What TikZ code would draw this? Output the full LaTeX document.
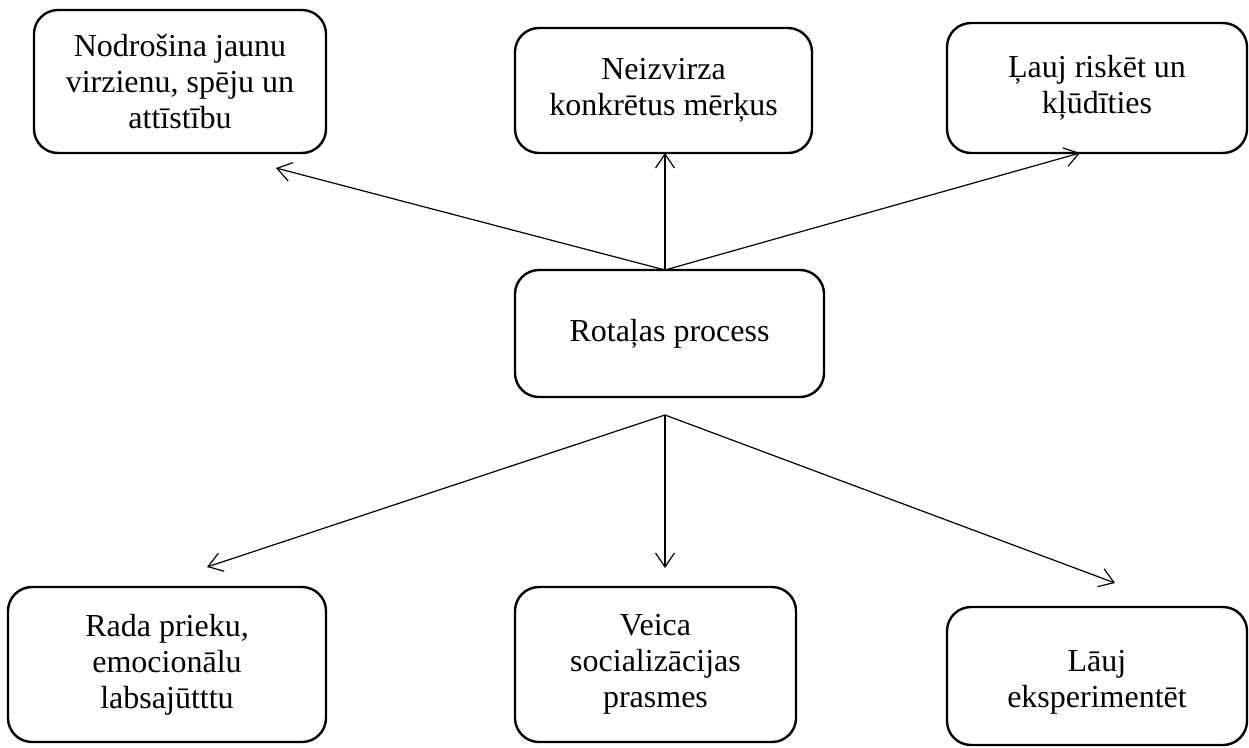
\documentclass[tikz,border=0pt]{standalone}
\usepackage{fontspec}
\setmainfont{Liberation Serif}
\usetikzlibrary{arrows.meta}
\begin{document}
\begin{tikzpicture}[x=1pt,y=-1pt,
  box/.style={draw, line width=2.4pt, rounded corners=24pt, align=center,
    font=\fontsize{32}{36}\selectfont, inner sep=0pt},
  conn/.style={line width=1.2pt, -{Straight Barb[length=14pt,width=19pt,line width=1.2pt]}}]
\useasboundingbox (0,0) rectangle (1249,747);
\node[box, minimum width=292pt, minimum height=143pt] (tl) at (180,81.5) {Nodrošina jaunu\\virzienu, spēju un\\attīstību};
\node[box, minimum width=297pt, minimum height=125pt] (tm) at (663.5,90.5) {Neizvirza\\konkrētus mērķus};
\node[box, minimum width=300pt, minimum height=130pt] (tr) at (1097,88) {Ļauj riskēt un\\kļūdīties};
\node[box, minimum width=309pt, minimum height=127pt] (c) at (669.5,333.5) {Rotaļas process};
\node[box, minimum width=318pt, minimum height=155pt] (bl) at (167,664.5) {Rada prieku,\\emocionālu\\labsajūtttu};
\node[box, minimum width=281pt, minimum height=155pt] (bm) at (655.5,664.5) {Veica\\socializācijas\\prasmes};
\node[box, minimum width=300pt, minimum height=138pt] (br) at (1097,676) {\\[-2pt]Lāuj\\eksperimentēt};
\coordinate (ctop) at (665,270);
\coordinate (cbot) at (665,415);
\coordinate (tlend) at (276,168);
\coordinate (tmend) at (665,153);
\coordinate (trend) at (1080,153);
\coordinate (blend) at (207,567);
\coordinate (bmend) at (665,568);
\coordinate (brend) at (1115,583);
\draw[conn] (ctop) -- (tlend);
\draw[conn] (ctop) -- (tmend);
\draw[conn] (ctop) -- (trend);
\draw[conn] (cbot) -- (blend);
\draw[conn] (cbot) -- (bmend);
\draw[conn] (cbot) -- (brend);
\end{tikzpicture}
\end{document}
